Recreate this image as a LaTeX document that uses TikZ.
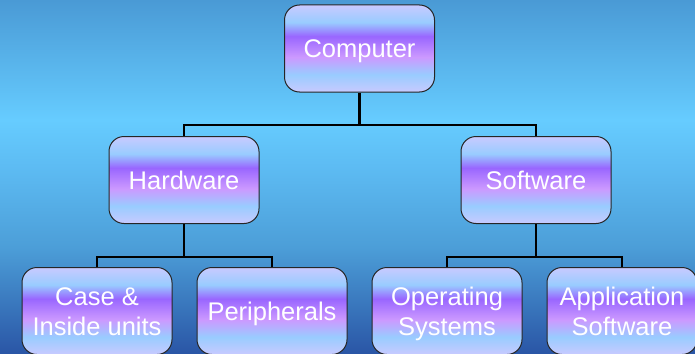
\documentclass[tikz,border=0pt]{standalone}
\usepackage{fontspec}
\setmainfont{Liberation Sans}
\definecolor{lav}{HTML}{C8CAFF}
\definecolor{lblue}{HTML}{99CCFF}
\definecolor{purp}{HTML}{9966FF}
\definecolor{pink}{HTML}{CC99FF}
\definecolor{bgtop}{HTML}{4A9AD5}
\definecolor{bglight}{HTML}{66CCFF}
\definecolor{bgmid}{HTML}{5BB8F0}
\definecolor{bglow}{HTML}{4C9ED8}
\definecolor{bgbot}{HTML}{2A56A6}
\pgfdeclareverticalshading{boxshade}{100bp}{color(0bp)=(lav); color(25bp)=(lav); color(35bp)=(lblue); color(45bp)=(pink); color(57bp)=(purp); color(65bp)=(lblue); color(75bp)=(lav); color(100bp)=(lav)}
\pgfdeclareverticalshading{bgshade}{100bp}{color(0bp)=(bgbot); color(25bp)=(bgbot); color(40bp)=(bglow); color(50bp)=(bgmid); color(58bp)=(bglight); color(75bp)=(bgtop); color(100bp)=(bgtop)}
\tikzset{
  box/.style={draw=black!85, line width=1pt, rounded corners=15pt, shade, shading=boxshade,
    minimum width=150pt, minimum height=87pt, inner sep=0pt,
    text=white, font=\fontsize{25.5}{30}\selectfont, align=center,
    text height=18.4pt, text depth=0pt},
  twoline/.style={text height=48.4pt},
  conn/.style={draw=black, line width=2.3pt}
}
\begin{document}
\begin{tikzpicture}[x=1pt,y=-1pt]
\useasboundingbox (0,0) rectangle (695,353);
\clip (0,0) rectangle (695,353);
\shade[shading=bgshade] (0,0) rectangle (695,353);
\node[box] (comp) at (359.5,48.5) {Computer};
\node[box] (hw) at (184,180) {Hardware};
\node[box] (sw) at (536,180) {Software};
\node[box,twoline] (case) at (97,311) {Case \&\\Inside units};
\node[box] (per) at (272,311) {Peripherals};
\node[box,twoline] (os) at (447,311) {Operating\\Systems};
\node[box,twoline] (app) at (622,311) {Application\\Software};
\coordinate (j1) at (359.5,125);
\coordinate (j2) at (184,257);
\coordinate (j3) at (536,257);
\draw[conn] (comp.south) -- (j1);
\draw[conn] (hw.north) |- (j1) -| (sw.north);
\draw[conn] (hw.south) -- (j2);
\draw[conn] (case.north) |- (j2) -| (per.north);
\draw[conn] (sw.south) -- (j3);
\draw[conn] (os.north) |- (j3) -| (app.north);
\end{tikzpicture}
\end{document}
